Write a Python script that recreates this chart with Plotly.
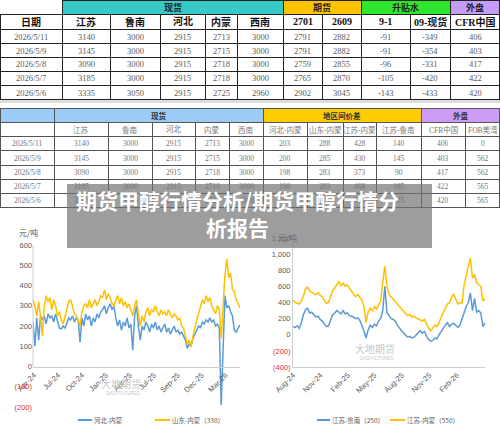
import plotly.graph_objects as go
import pandas as pd

W, H = 500, 431

# ---------------- Table 1 data ----------------
t1_groups = ["", "现货", "期货", "升贴水", "外盘"]
t1_headers = ["日期", "江苏", "鲁南", "河北", "内蒙", "西南", "2701", "2609", "9-1", "09-现货", "CFR中国"]
t1_dates = ["2026/5/11", "2026/5/9", "2026/5/8", "2026/5/7", "2026/5/6"]
t1_jiangsu = [3140, 3145, 3090, 3185, 3335]
t1_lunan = [3000, 3000, 3000, 3000, 3050]
t1_hebei = [2915, 2915, 2915, 2915, 2915]
t1_neimeng = [2713, 2715, 2718, 2718, 2725]
t1_xinan = [3000, 3000, 3000, 3000, 2960]
t1_f2701 = [2791, 2791, 2759, 2765, 2902]
t1_f2609 = [2882, 2882, 2855, 2870, 3045]
t1_spread_91 = [-91, -91, -96, -105, -143]
t1_basis_09 = [-349, -354, -331, -420, -433]
t1_cfr = [406, 403, 417, 422, 420]

# ---------------- Table 2 data ----------------
t2_groups = ["", "现货", "地区间价差", "外盘"]
t2_headers = ["", "江苏", "鲁南", "河北", "内蒙", "西南", "河北-内蒙", "山东-内蒙", "江苏-内蒙", "江苏-鲁南", "CFR中国", "FOB美湾"]
t2_dates = ["2026/5/11", "2026/5/9", "2026/5/8", "2026/5/7", "2026/5/6"]
t2_jiangsu = [3140, 3145, 3090, 3185, 3335]
t2_lunan = [3000, 3000, 3000, 3000, 3050]
t2_hebei = [2915, 2915, 2915, 2915, 2915]
t2_neimeng = [2713, 2715, 2718, 2718, 2725]
t2_xinan = [3000, 3000, 3000, 3000, 2960]
t2_hb_nm = [203, 200, 198, 198, 190]
t2_sd_nm = [288, 285, 283, 283, 275]
t2_js_nm = [428, 430, 373, 468, 610]
t2_js_ln = [140, 145, 90, 185, 285]
t2_cfr = [406, 403, 417, 422, 420]
t2_fob = [0, 562, 562, 565, 565]

# ---------------- Left chart data (weekly) ----------------
left_start = "2024-04-01"
hebei_neimeng = [
    220, 100, 240, 130, 250, 230, 250, 210, 260, 240,
    250, 220, 260, 230, 190, 185, 200, 190, 220, 240,
    230, 250, 220, 240, 230, 120, 240, 200, 260, 230,
    250, 200, 240, 220, 260, 240, 270, 280, 300, 260,
    290, 310, 280, 300, 240, 200, 230, 180, 220, 200,
    240, 190, 210, 80, 250, 300, 200, 130, 200, 180,
    220, 200, 170, 210, 190, 220, 180, 200, 170, 190,
    210, 170, 190, 160, 180, 200, 170, 180, 160, 170,
    150, 130, 90, 110, 100, 140, 160, 180, 200, 190,
    220, 210, 230, 220, 240, 220, 230, 200, 210, 190,
    -190, 80, 350, 290, 300, 270, 250, 180, 170, 190, 205,
]
shandong_neimeng = [
    330, 300, 250, 320, 250, 150, 300, 350, 320, 340,
    280, 330, 300, 250, 270, 230, 210, 250, 280, 320,
    330, 290, 260, 250, 230, 200, 270, 300, 310, 290,
    330, 290, 310, 330, 300, 320, 350, 340, 380, 330,
    360, 340, 310, 300, 330, 350, 310, 340, 300, 320,
    290, 310, 280, 250, 300, 330, 260, 200, 250, 220,
    270, 290, 250, 280, 270, 300, 270, 250, 280, 260,
    270, 250, 280, 260, 240, 260, 250, 230, 240, 200,
    190, 150, 110, 130, 100, 150, 200, 230, 260, 300,
    330, 310, 350, 320, 340, 300, 280, 260, 300, 280,
    140, 300, 450, 530, 440, 460, 380, 370, 330, 310, 290,
]
left_tick_dates = ["2024-04-05", "2024-07-03", "2024-09-30", "2024-12-28", "2025-03-27",
                   "2025-06-24", "2025-09-21", "2025-12-19", "2026-03-18"]
left_tick_text = ["Apr-24", "Jul-24", "Oct-24", "Jan-25", "Apr-25", "Jul-25", "Sep-25", "Dec-25", "Mar-26"]
left_y_ticks = [-200, -100, 0, 100, 200, 300, 400, 500, 600]
left_y_text = ["(200)", "(100)", "0", "100", "200", "300", "400", "500", "600"]
left_names = ["河北-内蒙", "山东-内蒙（330）"]

# ---------------- Right chart data (weekly) ----------------
right_start = "2024-08-01"
jiangsu_lunan = [
    100, 90, 110, 80, 150, 250, 310, 330, 270, 280,
    250, 220, 230, 190, 170, 140, 100, 110, 180, 250,
    270, 300, 280, 260, 300, 260, 270, 240, 230, 220,
    200, 210, 180, 120, 50, -40, 60, 120, 90, 130,
    110, 170, 200, 300, 600, 280, 230, 200, 190, 170,
    120, 80, 50, 20, -10, -30, -20, -40, -30, 0,
    30, 50, 20, 40, -20, -60, -80, -70, -40, -50,
    0, 50, 80, 120, 150, 100, 130, 140, 110, 90,
    120, 200, 250, 350, 400, 520, 300, 450, 280, 300,
    270, 100, 150,
]
jiangsu_neimeng = [
    430, 400, 390, 380, 420, 480, 570, 590, 540, 520,
    510, 500, 520, 490, 470, 430, 390, 400, 470, 550,
    580, 620, 660, 610, 640, 600, 620, 580, 540, 510,
    470, 500, 460, 430, 350, 150, 280, 330, 300, 350,
    320, 380, 420, 650, 850, 600, 500, 470, 440, 400,
    380, 340, 320, 290, 260, 240, 250, 220, 230, 210,
    200, 180, 170, 190, 130, 80, 50, 90, 120, 100,
    150, 220, 280, 320, 380, 400, 470, 500, 430, 380,
    400, 390, 620, 750, 850, 950, 700, 750, 650, 620,
    600, 420, 450,
]
right_tick_dates = ["2024-08-01", "2024-11-01", "2025-02-01", "2025-05-01",
                    "2025-08-01", "2025-11-01", "2026-02-01"]
right_tick_text = ["Aug-24", "Nov-24", "Feb-25", "May-25", "Aug-25", "Nov-25", "Feb-26"]
right_y_ticks = [-400, -200, 0, 200, 400, 600, 800, 1000, 1200]
right_y_text = ["(400)", "(200)", "0", "200", "400", "600", "800", "1,000", "1,200"]
right_names = ["江苏-鲁南（250）", "江苏-内蒙（550）"]

title_text = "期货甲醇行情分析/期货甲醇行情分<br>析报告"

# ---------------- helpers ----------------
def fy(py):
    return 1 - py / H

def fx(px):
    return px / W

def neg_red(labels):
    return [f"<span style='color:#e03030'>{t}</span>" if t.startswith("(") else t for t in labels]

SERIF = "Liberation Serif, Noto Sans CJK SC, serif"
SANS = "Liberation Sans, Noto Sans CJK SC, sans-serif"
CJK = "Noto Sans CJK SC"
BLUE = "#5b9bd5"
GOLD = "#ffc000"

shapes = []
annotations = []

def hline(x0, x1, y, color, width=1):
    shapes.append(dict(type="line", xref="paper", yref="paper", x0=fx(x0), x1=fx(x1),
                       y0=fy(y), y1=fy(y), line=dict(color=color, width=width)))

def vline(x, y0, y1, color, width=1):
    shapes.append(dict(type="line", xref="paper", yref="paper", x0=fx(x), x1=fx(x),
                       y0=fy(y0), y1=fy(y1), line=dict(color=color, width=width)))

def rect(x0, x1, y0, y1, color):
    shapes.append(dict(type="rect", xref="paper", yref="paper", x0=fx(x0), x1=fx(x1),
                       y0=fy(y1), y1=fy(y0), fillcolor=color, line=dict(width=0), layer="below"))

def text(t, x, y, size, color, family=SERIF, bold=False, xanchor="center"):
    s = f"<b>{t}</b>" if bold else str(t)
    annotations.append(dict(text=s, x=fx(x), y=fy(y), xref="paper", yref="paper",
                            showarrow=False, xanchor=xanchor, yanchor="middle",
                            borderpad=0,
                            font=dict(family=family, size=size, color=color)))

def draw_table(group_edges, group_labels, group_colors, col_edges, headers, cols,
               row_edges, line_color, gsize, gcolor, hsize, hcolor, hbold, csize, ccolor,
               skip_first_top=False):
    for i, c in enumerate(group_colors):
        if c:
            rect(group_edges[i], group_edges[i + 1], row_edges[0], row_edges[1], c)
    for k, y in enumerate(row_edges):
        x0 = group_edges[1] if (k == 0 and skip_first_top) else col_edges[0]
        hline(x0, col_edges[-1], y + 0.5, line_color)
    for x in group_edges:
        if skip_first_top and x == group_edges[0]:
            continue
        vline(min(x + 0.5, W - 0.5), row_edges[0], row_edges[1], line_color)
    for x in col_edges:
        vline(min(x + 0.5, W - 0.5), row_edges[1], row_edges[-1], line_color)
    for i, g in enumerate(group_labels):
        if g:
            text(g, (group_edges[i] + group_edges[i + 1]) / 2, (row_edges[0] + row_edges[1]) / 2 + 0.5,
                 gsize, gcolor, family=CJK, bold=True)
    for j, h in enumerate(headers):
        if h:
            text(h, (col_edges[j] + col_edges[j + 1]) / 2, (row_edges[1] + row_edges[2]) / 2 + 0.5,
                 hsize, hcolor, bold=hbold)
    for j, col in enumerate(cols):
        for r, v in enumerate(col):
            text(v, (col_edges[j] + col_edges[j + 1]) / 2, (row_edges[r + 2] + row_edges[r + 3]) / 2 + 0.5,
                 csize, ccolor)

# ---- Table 1 ----
t1_cols = [t1_dates, t1_jiangsu, t1_lunan, t1_hebei, t1_neimeng, t1_xinan,
           t1_f2701, t1_f2609, t1_spread_91, t1_basis_09, t1_cfr]
draw_table(group_edges=[0, 62, 283, 361, 450, 500], group_labels=t1_groups,
           group_colors=[None, "#36c9c6", "#ffc400", "#2fe62f", "#c59cf7"],
           col_edges=[0, 62, 110, 160, 205, 237, 283, 322, 361, 410, 450, 500],
           headers=t1_headers, cols=t1_cols,
           row_edges=[0, 14, 29, 43, 57, 71, 85, 99], line_color="#222",
           gsize=9, gcolor="#222", hsize=10, hcolor="#111", hbold=True, csize=8.5, ccolor="#5a5a5a",
           skip_first_top=True)

shapes.append(dict(type="line", xref="paper", yref="paper", x0=0, x1=1, y0=fy(101.5), y1=fy(101.5),
                   line=dict(color="#dcdcdc", width=3), layer="below"))

# ---- Table 2 ----
t2_cols = [t2_dates, t2_jiangsu, t2_lunan, t2_hebei, t2_neimeng, t2_xinan,
           t2_hb_nm, t2_sd_nm, t2_js_nm, t2_js_ln, t2_cfr, t2_fob]
draw_table(group_edges=[0, 54, 263, 421, 500], group_labels=t2_groups,
           group_colors=["#9ccbf7", "#9ccbf7", "#ffcc00", "#cc9cf7"],
           col_edges=[0, 54, 108, 152, 195, 229, 263, 307, 343, 376, 421, 465, 500],
           headers=t2_headers, cols=t2_cols,
           row_edges=[108, 122, 136, 150, 165, 179, 193, 207], line_color="#555",
           gsize=7.5, gcolor="#333", hsize=7.5, hcolor="#777", hbold=False, csize=7.5, ccolor="#777")

fig = go.Figure()

left_dates = pd.date_range(left_start, periods=len(hebei_neimeng), freq="7D")
fig.add_trace(go.Scatter(x=left_dates, y=hebei_neimeng, mode="lines", name=left_names[0],
                         line=dict(color=BLUE, width=1.5), xaxis="x", yaxis="y", showlegend=False))
fig.add_trace(go.Scatter(x=left_dates, y=shandong_neimeng, mode="lines", name=left_names[1],
                         line=dict(color=GOLD, width=1.5), xaxis="x", yaxis="y", showlegend=False))

right_dates = pd.date_range(right_start, periods=len(jiangsu_lunan), freq="7D")
fig.add_trace(go.Scatter(x=right_dates, y=jiangsu_lunan, mode="lines", name=right_names[0],
                         line=dict(color=BLUE, width=1.5), xaxis="x2", yaxis="y2", showlegend=False))
fig.add_trace(go.Scatter(x=right_dates, y=jiangsu_neimeng, mode="lines", name=right_names[1],
                         line=dict(color=GOLD, width=1.5), xaxis="x2", yaxis="y2", showlegend=False))

tickfont = dict(family=SANS, size=7.5, color="#595959")

fig.update_layout(
    width=W, height=H, autosize=False,
    margin=dict(l=0, r=0, t=0, b=0),
    paper_bgcolor="white", plot_bgcolor="rgba(0,0,0,0)",
    font=dict(family=CJK),
    showlegend=False,
    xaxis=dict(domain=[fx(33), fx(240)], anchor="free", position=fy(367),
               range=[left_dates[0], left_dates[-1]], type="date",
               tickvals=left_tick_dates, ticktext=left_tick_text, tickangle=-45,
               showgrid=False, zeroline=False, showline=True, linecolor="#cfcfcf", linewidth=1,
               ticks="", tickfont=tickfont, automargin=False),
    yaxis=dict(domain=[fy(407), fy(245)], anchor="x", range=[-200, 600],
               tickvals=left_y_ticks, ticktext=neg_red(left_y_text),
               showgrid=False, zeroline=False, showline=False, ticks="", tickfont=tickfont,
               automargin=False),
    xaxis2=dict(domain=[fx(293), fx(485)], anchor="y2",
                range=[right_dates[0], right_dates[-1]], type="date",
                tickvals=right_tick_dates, ticktext=right_tick_text, tickangle=-45,
                showgrid=False, zeroline=False, showline=True, linecolor="#cfcfcf", linewidth=1,
                ticks="", tickfont=tickfont, automargin=False),
    yaxis2=dict(domain=[fy(367), fy(238)], anchor="x2", range=[-400, 1200],
                tickvals=right_y_ticks, ticktext=neg_red(right_y_text),
                showgrid=False, zeroline=False, showline=True, linecolor="#cfcfcf", linewidth=1,
                ticks="", tickfont=tickfont, automargin=False),
)

shapes.append(dict(type="line", xref="x domain", yref="y", x0=0, x1=0, y0=0, y1=600,
                   line=dict(color="#cfcfcf", width=1)))

def legend_item(x0, x1, y, color, label):
    shapes.append(dict(type="line", xref="paper", yref="paper", x0=fx(x0), x1=fx(x1),
                       y0=fy(y), y1=fy(y), line=dict(color=color, width=2)))
    text(label, x1 + 1, y, 6.5, "#595959", family=CJK, xanchor="left")

legend_item(78, 92, 420, BLUE, left_names[0])
legend_item(155, 170, 420, GOLD, left_names[1])
legend_item(317, 330, 420, BLUE, right_names[0])
legend_item(390, 405, 420, GOLD, right_names[1])

text("元/吨", 28, 232, 8, "#595959", family=CJK)
text("元/吨", 287, 237, 8, "#595959", family=CJK)

text("大地期货", 121, 383, 10, "#c8c8c8", family=CJK)
text("DADI FUTURES", 122, 393, 4.5, "#c8c8c8", family=SANS)
text("大地期货", 375, 348, 10, "#c8c8c8", family=CJK)
text("DADI FUTURES", 376, 358, 4.5, "#c8c8c8", family=SANS)

annotations.append(dict(text=" ", x=fx(249.5), y=fy(216), xref="paper", yref="paper",
                        showarrow=False, xanchor="center", yanchor="middle",
                        width=365, height=64, borderpad=0, borderwidth=0,
                        bgcolor="rgba(115,115,115,0.70)", font=dict(size=4)))
annotations.append(dict(text=f"<b>{title_text}</b>", x=fx(237), y=fy(214),
                        xref="paper", yref="paper", showarrow=False, align="center",
                        xanchor="center", yanchor="middle",
                        font=dict(family=CJK, size=21, color="white")))

fig.update_layout(shapes=shapes, annotations=annotations)

fig.write_html("out.html", config={"displayModeBar": False},
               post_script="document.body.style.margin='0px';")
